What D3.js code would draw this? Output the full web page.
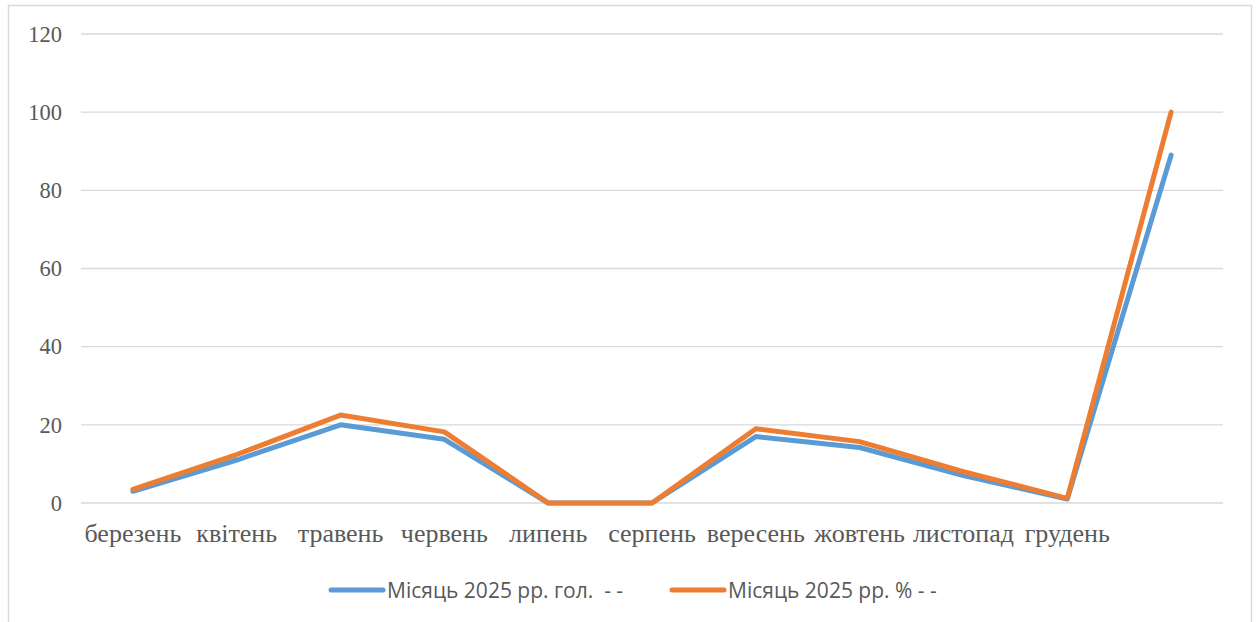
<!DOCTYPE html>
<html>
<head>
<meta charset="utf-8">
<script src="https://cdn.jsdelivr.net/npm/d3@7"></script>
<style>
  body { margin: 0; background: #fff; }
  svg { display: block; }
  svg text.serif { font-family: "Liberation Serif", "Times New Roman", serif !important; }
</style>
</head>
<body>
<div id="chart"></div>
<script>
// Data
const months = ["березень", "квітень", "травень", "червень", "липень", "серпень",
  "вересень", "жовтень", "листопад", "грудень", ""];
const countValues = [3, 11, 20, 16.3, 0, 0, 17, 14.2, 7, 1, 89];
const percentValues = [3.5, 12.4, 22.5, 18.2, 0, 0, 19, 15.7, 8, 1.2, 100];
const yTicks = [0, 20, 40, 60, 80, 100, 120];
const seriesNames = ["Місяць 2025 рр. гол.  - -", "Місяць 2025 рр. % - -"];

function drawChart() {
  const W = 1258, H = 622;
  const plotLeft = 81, plotRight = 1223, plotTop = 34, plotBottom = 503;

  const svg = d3.select("#chart")
    .append("svg")
    .attr("width", W)
    .attr("height", H);

  // chart frame
  svg.append("rect")
    .attr("x", 8.5).attr("y", 5.5)
    .attr("width", 1243).attr("height", 640)
    .attr("fill", "#fff")
    .attr("stroke", "#d9d9d9")
    .attr("stroke-width", 1.5);

  const x = d3.scaleBand()
    .domain(months.map((d, i) => i))
    .range([plotLeft, plotRight])
    .paddingInner(0);

  const y = d3.scaleLinear()
    .domain([0, 120])
    .range([plotBottom, plotTop]);

  const cx = i => x(i) + x.bandwidth() / 2;

  // grid
  svg.append("g")
    .selectAll("line")
    .data(yTicks)
    .enter().append("line")
    .attr("x1", plotLeft).attr("x2", plotRight)
    .attr("y1", d => y(d)).attr("y2", d => y(d))
    .attr("stroke", "#d9d9d9")
    .attr("stroke-width", 1.3);

  // y axis labels
  const gy = svg.append("g")
    .attr("transform", `translate(${plotLeft},0)`)
    .call(d3.axisLeft(y).tickValues(yTicks).tickSize(0).tickPadding(19));
  gy.select(".domain").remove();
  gy.selectAll("text")
    .attr("class", "serif")
    .style("font-family", "Liberation Serif")
    .style("font-size", "22.5px")
    .attr("fill", "#595959");

  // x axis labels
  const gx = svg.append("g")
    .attr("transform", `translate(0,${plotBottom})`)
    .call(d3.axisBottom(x).tickFormat(i => months[i]).tickSize(0).tickPadding(21));
  gx.select(".domain").remove();
  gx.selectAll("text")
    .attr("class", "serif")
    .style("font-family", "Liberation Serif")
    .style("font-size", "26px")
    .attr("fill", "#595959");

  // lines
  const series = [
    { name: seriesNames[0], values: countValues, color: "#5b9bd5" },
    { name: seriesNames[1], values: percentValues, color: "#ed7d31" }
  ];

  const line = d3.line()
    .x((d, i) => cx(i))
    .y(d => y(d));

  series.forEach(s => {
    svg.append("path")
      .datum(s.values)
      .attr("d", line)
      .attr("fill", "none")
      .attr("stroke", s.color)
      .attr("stroke-width", 5)
      .attr("stroke-linejoin", "round")
      .attr("stroke-linecap", "round");
  });

  // legend
  const legendX = [331, 672];
  const legend = svg.append("g")
    .selectAll("g")
    .data(series)
    .enter().append("g")
    .attr("transform", (d, i) => `translate(${legendX[i]},590)`);

  legend.append("line")
    .attr("x1", 0).attr("x2", 52)
    .attr("stroke", d => d.color)
    .attr("stroke-width", 5)
    .attr("stroke-linecap", "round");

  legend.append("text")
    .attr("x", 56)
    .attr("y", 8)
    .style("font-family", "Open Sans")
    .style("font-size", "21px")
    .attr("fill", "#595959")
    .style("white-space", "pre")
    .text(d => d.name);
}

drawChart();
</script>
</body>
</html>
